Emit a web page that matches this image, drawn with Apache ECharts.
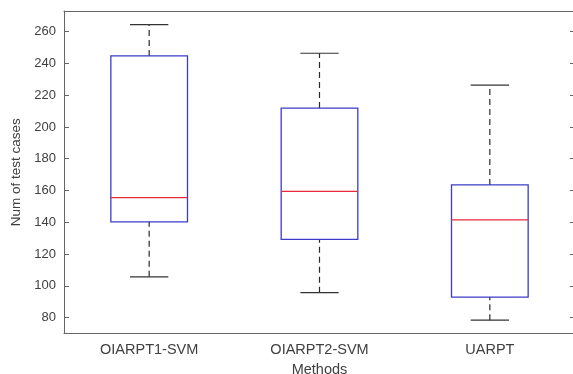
<!DOCTYPE html>
<html>
<head>
<meta charset="utf-8">
<script src="https://cdn.jsdelivr.net/npm/echarts@6/dist/echarts.min.js"></script>
<style>
  html, body { margin: 0; padding: 0; background: #fff; }
  #chart { width: 573px; height: 374px; }
</style>
</head>
<body>
<div id="chart"></div>
<script>
var categories = ['OIARPT1-SVM', 'OIARPT2-SVM', 'UARPT'];
var lowerWhisker = [105.7, 95.7, 78.4];
var q1 = [140.3, 129.2, 92.9];
var median = [155.5, 159.5, 141.5];
var q3 = [244.7, 211.9, 163.5];
var upperWhisker = [264.4, 246.4, 226.3];
var yTicks = [80, 100, 120, 140, 160, 180, 200, 220, 240, 260];

var myChart = echarts.init(document.getElementById('chart'));

var boxData = categories.map(function (c, i) {
    return [i, lowerWhisker[i], q1[i], median[i], q3[i], upperWhisker[i]];
});

var font = 'Liberation Sans';

function renderBox(params, api) {
    var i = api.value(0);
    var band = api.size([1, 0])[0];
    var bw = band * 0.45;
    var cw = band * 0.225;
    var pLo = api.coord([i, api.value(1)]);
    var pQ1 = api.coord([i, api.value(2)]);
    var pMed = api.coord([i, api.value(3)]);
    var pQ3 = api.coord([i, api.value(4)]);
    var pHi = api.coord([i, api.value(5)]);
    var x = pQ1[0];
    var whisk = { stroke: '#2a2a2a', lineWidth: 1.2, lineDash: [6, 4] };
    var cap = { stroke: '#333', lineWidth: 1.2 };
    var blue = { stroke: '#3c3cc8', lineWidth: 1.3, fill: null };
    return {
        type: 'group',
        children: [
            { type: 'line', shape: { x1: x, y1: pQ3[1], x2: x, y2: pHi[1] }, style: whisk },
            { type: 'line', shape: { x1: x, y1: pLo[1], x2: x, y2: pQ1[1] }, style: whisk },
            { type: 'line', shape: { x1: x - cw / 2, y1: pHi[1], x2: x + cw / 2, y2: pHi[1] }, style: cap },
            { type: 'line', shape: { x1: x - cw / 2, y1: pLo[1], x2: x + cw / 2, y2: pLo[1] }, style: cap },
            { type: 'rect', shape: { x: x - bw / 2, y: pQ3[1], width: bw, height: pQ1[1] - pQ3[1] }, style: blue },
            { type: 'line', shape: { x1: x - bw / 2, y1: pMed[1], x2: x + bw / 2, y2: pMed[1] }, style: { stroke: '#e8283c', lineWidth: 1.2 } }
        ]
    };
}

var option = {
    animation: false,
    grid: { left: 64, top: 11, width: 511, height: 322.5, outerBoundsMode: 'none', containLabel: false },
    xAxis: [{
        type: 'category',
        data: categories,
        name: 'Methods',
        nameLocation: 'middle',
        nameGap: 23,
        nameTextStyle: { fontFamily: font, fontSize: 14.5, color: '#404040' },
        axisLine: { lineStyle: { color: '#666' } },
        axisTick: { alignWithLabel: true, inside: true, length: 5, lineStyle: { color: '#666' } },
        axisLabel: { fontFamily: font, fontSize: 14.5, color: '#404040', margin: 9 },
        splitLine: { show: false }
    }, {
        type: 'category',
        data: categories,
        position: 'top',
        axisLine: { lineStyle: { color: '#666' } },
        axisTick: { alignWithLabel: true, inside: true, length: 5, lineStyle: { color: '#666' } },
        axisLabel: { show: false }
    }],
    yAxis: [{
        type: 'value',
        min: 70,
        max: 273,
        name: 'Num of test cases',
        nameLocation: 'middle',
        nameGap: 40,
        nameTextStyle: { fontFamily: font, fontSize: 13.5, color: '#404040' },
        axisLine: { show: true, lineStyle: { color: '#666' } },
        axisTick: { show: true, inside: true, length: 5, customValues: yTicks, lineStyle: { color: '#666' } },
        axisLabel: { fontFamily: font, fontSize: 13, color: '#404040', margin: 8, customValues: yTicks },
        splitLine: { show: false }
    }, {
        type: 'value',
        min: 70,
        max: 273,
        position: 'right',
        axisLine: { show: true, lineStyle: { color: '#666' } },
        axisTick: { show: true, inside: true, length: 5, customValues: yTicks, lineStyle: { color: '#666' } },
        axisLabel: { show: false },
        splitLine: { show: false }
    }],
    series: [{
        type: 'custom',
        renderItem: renderBox,
        encode: { x: 0, y: [1, 2, 3, 4, 5] },
        data: boxData
    }]
};
myChart.setOption(option);
</script>
</body>
</html>
